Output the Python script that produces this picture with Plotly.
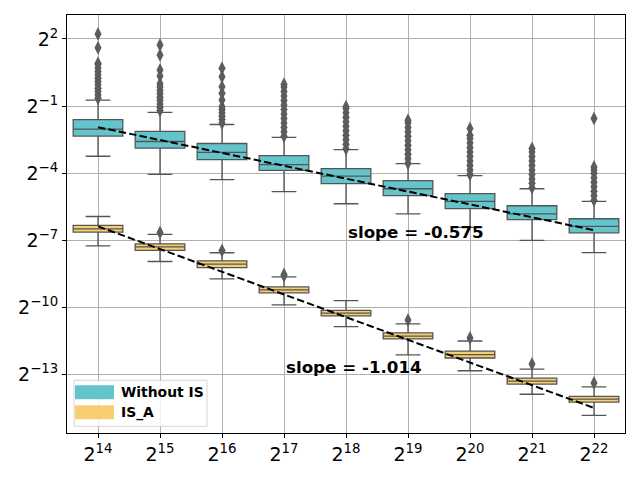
import plotly.graph_objects as go

# box positions: log2 of sample size
sizes = [14, 15, 16, 17, 18, 19, 20, 21, 22]

# box stats, given as log2 of the value
noIS_lw  = [-3.24, -4.05, -4.28, -4.82, -5.36, -5.81, -6.42, -7.00, -7.54]
noIS_q1  = [-2.34, -2.88, -3.39, -3.87, -4.46, -5.00, -5.58, -6.07, -6.66]
noIS_med = [-2.03, -2.58, -3.07, -3.61, -4.13, -4.69, -5.25, -5.81, -6.37]
noIS_q3  = [-1.60, -2.13, -2.67, -3.21, -3.79, -4.33, -4.91, -5.45, -6.03]
noIS_uw  = [-0.73, -1.28, -1.82, -2.40, -2.94, -3.57, -4.10, -4.69, -5.25]

isa_lw  = [-7.24, -7.94, -8.72, -9.88, -10.85, -12.11, -12.82, -13.87, -14.81]
isa_q1  = [-6.63, -7.44, -8.21, -9.34, -10.37, -11.40, -12.25, -13.42, -14.22]
isa_med = [-6.48, -7.29, -8.06, -9.21, -10.25, -11.27, -12.10, -13.28, -14.09]
isa_q3  = [-6.33, -7.15, -7.91, -9.07, -10.12, -11.13, -11.94, -13.15, -13.96]
isa_uw  = [-5.93, -6.73, -7.55, -8.63, -9.69, -10.73, -11.49, -12.75, -13.54]

# outliers (log2)
noIS_out = {
    14: [-0.65, -0.5, -0.35, -0.2, -0.05, 0.1, 0.25, 0.4, 0.55, 0.7, 0.85, 0.92, 1.61, 2.22],
    15: [-1.2, -1.05, -0.9, -0.75, -0.6, -0.45, -0.3, -0.15, 0.0, 0.35, 0.61, 1.28, 1.73],
    16: [-1.75, -1.6, -1.45, -1.3, -1.15, -1.03, -0.73, -0.43, -0.14, 0.31, 0.69],
    17: [-2.35, -2.15, -1.95, -1.75, -1.55, -1.35, -1.15, -0.95, -0.75, -0.55, -0.35, -0.15, -0.02],
    18: [-2.9, -2.7, -2.5, -2.3, -2.1, -1.9, -1.7, -1.5, -1.3, -1.1, -1.03],
    19: [-3.55, -3.35, -3.15, -2.95, -2.75, -2.55, -2.35, -2.15, -1.95, -1.75, -1.63],
    20: [-4.05, -3.85, -3.65, -3.45, -3.25, -3.05, -2.85, -2.65, -2.45, -2.3, -2.0],
    21: [-4.65, -4.45, -4.25, -4.05, -3.85, -3.65, -3.45, -3.25, -3.05, -2.89],
    22: [-5.2, -5.0, -4.8, -4.6, -4.4, -4.2, -4.0, -3.85, -3.72, -1.55],
}
isa_out = {15: [-6.64], 16: [-7.45], 17: [-8.52, -8.58], 19: [-10.55], 20: [-11.36], 21: [-12.52], 22: [-13.37]}

# fitted lines: log2 value at first and last size
fit_x = [14, 22]
noIS_fit = [-1.94, -6.54]
isa_fit = [-6.37, -14.48]

y_ticks = [2, -1, -4, -7, -10, -13]

TEAL = "#63c5cb"
YELLOW = "#f7cf73"
EDGE = "#555555"
FONT = "DejaVu Sans"


def p2(vals):
    return [2.0 ** v for v in vals]


fig = go.Figure()

for name, col, lw, q1, med, q3, uw in [
    ("Without IS", TEAL, noIS_lw, noIS_q1, noIS_med, noIS_q3, noIS_uw),
    ("IS_A", YELLOW, isa_lw, isa_q1, isa_med, isa_q3, isa_uw),
]:
    fig.add_trace(go.Box(
        x=sizes, q1=p2(q1), median=p2(med), q3=p2(q3),
        lowerfence=p2(lw), upperfence=p2(uw),
        width=0.8, whiskerwidth=0.5, boxpoints=False,
        fillcolor=col, line=dict(color=EDGE, width=1.3),
        name=name, showlegend=False,
    ))

for outs in (noIS_out, isa_out):
    xs, ys = [], []
    for k, v in outs.items():
        xs += [k] * len(v)
        ys += v
    fig.add_trace(go.Scatter(
        x=xs, y=p2(ys), mode="markers", showlegend=False,
        marker=dict(symbol="diamond-tall", size=10, color="#5c5c5c",
                    line=dict(width=0)),
    ))

for fit in (noIS_fit, isa_fit):
    fig.add_trace(go.Scatter(
        x=fit_x, y=p2(fit), mode="lines", showlegend=False,
        line=dict(color="black", width=2, dash="7.4px,3.2px"),
    ))

LOG2 = 0.30103
fig.add_annotation(x=18, y=-7 * LOG2, text="<b>slope = -0.575</b>", showarrow=False,
                   xanchor="left", yanchor="bottom", yshift=-4,
                   font=dict(family=FONT, size=16.7, color="black"))
fig.add_annotation(x=17, y=-13 * LOG2, text="<b>slope = -1.014</b>", showarrow=False,
                   xanchor="left", yanchor="bottom", yshift=-4,
                   font=dict(family=FONT, size=16.7, color="black"))

# legend drawn by hand (matplotlib-style wide patches); pixel spots on the page
L, T, W, H = 67, 15, 558, 417.7
PAGE_PAD = 8  # browser body margin


def px(x):
    return (x - L) / W


def py(y):
    return (T + H - y) / H


fig.add_shape(type="rect", xref="paper", yref="paper",
              x0=px(74), x1=px(207), y0=py(426), y1=py(380),
              line=dict(color="#d5d5d5", width=1), fillcolor="rgba(255,255,255,0.8)")
for (top, col, label) in [(385, TEAL, "Without IS"), (405, YELLOW, "IS_A")]:
    fig.add_shape(type="rect", xref="paper", yref="paper",
                  x0=px(75), x1=px(114), y0=py(top + 14), y1=py(top),
                  line=dict(width=0), fillcolor=col)
    fig.add_annotation(xref="paper", yref="paper", x=px(119), y=py(top + 7),
                       text=f"<b>{label}</b>", showarrow=False,
                       xanchor="left", yanchor="middle",
                       font=dict(family=FONT, size=13.9, color="black"))

fig.update_layout(
    width=640, height=480, template=None,
    paper_bgcolor="white", plot_bgcolor="white",
    margin=dict(l=L - PAGE_PAD, r=640 - L - W + PAGE_PAD,
                t=T - PAGE_PAD, b=480 - T - H + PAGE_PAD),
    boxmode="overlay",
    font=dict(family=FONT, size=19, color="black"),
)

fig.update_xaxes(
    range=[13.5, 22.5], tickvals=sizes,
    ticktext=[f"2<sup>{s}</sup>" for s in sizes],
    showgrid=True, gridcolor="#b0b0b0", gridwidth=1, zeroline=False,
    ticks="outside", ticklen=4, tickcolor="black",
    showline=True, linecolor="black", linewidth=1, mirror=True,
)
fig.update_yaxes(
    type="log", range=[-15.6 * LOG2, 3.07 * LOG2],
    tickvals=p2(y_ticks),
    ticktext=[f"2<sup>{t}</sup>".replace("-", "\u2212") for t in y_ticks],
    showgrid=True, gridcolor="#b0b0b0", gridwidth=1, zeroline=False,
    ticks="outside", ticklen=4, tickcolor="black",
    showline=True, linecolor="black", linewidth=1, mirror=True,
)

fig.write_html("out.html")
